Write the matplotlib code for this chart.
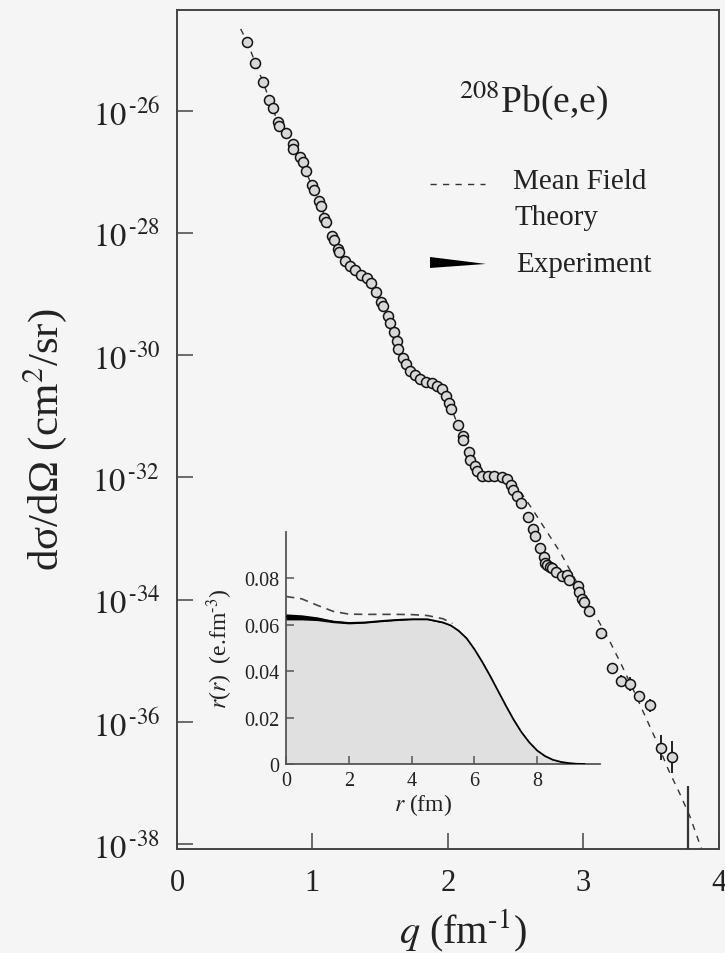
import numpy as np
import matplotlib
matplotlib.use("Agg")
import matplotlib.pyplot as plt
from matplotlib.ticker import FixedLocator, NullLocator, FixedFormatter

plt.rcParams['font.family'] = ['Liberation Serif', 'DejaVu Serif']
plt.rcParams['mathtext.fontset'] = 'stix'

# ---------------- elastic cross section of 208Pb(e,e) ----------------
# measured points: momentum transfer q (fm^-1) and log10 of dsigma/dOmega (cm^2/sr)
q_data = [0.519, 0.578, 0.635, 0.681, 0.708, 0.743, 0.753, 0.807, 0.856, 0.858,
          0.906, 0.928, 0.950, 0.999, 1.011, 1.048, 1.061, 1.087, 1.102, 1.146,
          1.159, 1.188, 1.196, 1.238, 1.277, 1.311, 1.360, 1.400, 1.430, 1.466,
          1.503, 1.522, 1.555, 1.572, 1.604, 1.621, 1.633, 1.670, 1.690, 1.720,
          1.756, 1.793, 1.838, 1.880, 1.921, 1.954, 1.983, 2.007, 2.020, 2.074,
          2.108, 2.113, 2.155, 2.162, 2.199, 2.212, 2.249, 2.297, 2.342, 2.396,
          2.433, 2.463, 2.482, 2.511, 2.541, 2.590, 2.630, 2.642, 2.679, 2.708,
          2.716, 2.733, 2.753, 2.768, 2.799, 2.839, 2.880, 2.893, 2.956, 2.967,
          2.989, 3.004, 3.038, 3.127, 3.208]
log_data = [-24.88, -25.21, -25.53, -25.82, -25.96, -26.18, -26.25, -26.36, -26.55, -26.63,
            -26.76, -26.83, -26.99, -27.22, -27.29, -27.47, -27.56, -27.76, -27.82, -28.05,
            -28.11, -28.26, -28.31, -28.46, -28.54, -28.60, -28.68, -28.73, -28.82, -28.97,
            -29.13, -29.20, -29.36, -29.47, -29.62, -29.76, -29.90, -30.05, -30.14, -30.25,
            -30.33, -30.39, -30.43, -30.45, -30.51, -30.56, -30.67, -30.78, -30.88, -31.14,
            -31.32, -31.38, -31.58, -31.72, -31.82, -31.89, -31.98, -31.98, -31.97, -32.00,
            -32.02, -32.13, -32.21, -32.30, -32.42, -32.64, -32.84, -32.95, -33.16, -33.30,
            -33.40, -33.44, -33.47, -33.48, -33.54, -33.62, -33.59, -33.67, -33.77, -33.88,
            -33.99, -34.04, -34.18, -34.54, -35.12]

# high-q points with visible error bars (error in decades)
q_err = [3.277, 3.345, 3.410, 3.493, 3.570, 3.651]
log_err = [-35.33, -35.38, -35.57, -35.73, -36.42, -36.57]
dlog_err = [0.10, 0.11, 0.08, 0.11, 0.21, 0.26]

# last point: only the upper part of its error bar is inside the frame
q_last = 3.773
log_last_top = -37.05

# mean field theory
q_theory = [0.470, 0.519, 0.635, 0.743, 0.856, 0.950, 1.055, 1.146, 1.196, 1.238,
            1.311, 1.400, 1.466, 1.555, 1.621, 1.670, 1.720, 1.793, 1.880, 1.954,
            2.007, 2.074, 2.155, 2.212, 2.297, 2.396, 2.472, 2.546, 2.620, 2.716,
            2.827, 2.937, 3.109, 3.196, 3.277, 3.365, 3.454, 3.542, 3.624, 3.712,
            3.786, 3.860, 3.904]
log_theory = [-24.66, -24.88, -25.53, -26.18, -26.57, -26.99, -27.52, -28.05, -28.31, -28.46,
              -28.60, -28.73, -28.97, -29.36, -29.76, -30.05, -30.25, -30.39, -30.45, -30.56,
              -30.78, -31.14, -31.58, -31.89, -31.98, -31.98, -32.07, -32.27, -32.51, -32.84,
              -33.22, -33.66, -34.34, -34.69, -35.05, -35.46, -35.90, -36.33, -36.77, -37.18,
              -37.55, -38.01, -38.27]

y_tick_exponents = [-26, -28, -30, -32, -34, -36, -38]
x_ticks = [0, 1, 2, 3, 4]

# ---------------- charge density (inset) ----------------
r_exp = [0.0, 0.5, 1.0, 1.5, 2.0, 2.5, 3.0, 3.5, 4.0, 4.5, 5.0, 5.25, 5.5, 5.75,
         6.0, 6.25, 6.5, 6.75, 7.0, 7.25, 7.5, 7.75, 8.0, 8.25, 8.5, 8.75,
         9.0, 9.25, 9.5]
rho_exp = [0.0634, 0.0632, 0.0626, 0.0614, 0.0608, 0.0610, 0.0616, 0.0621, 0.0624, 0.0624,
           0.0610, 0.0597, 0.0574, 0.0542, 0.0495, 0.0440, 0.0380, 0.0316, 0.0252,
           0.0191, 0.0137, 0.0093, 0.0058, 0.0034, 0.0018, 0.0009, 0.0004, 0.0001, 0.0]
rho_exp_err = [0.0013, 0.0011, 0.0008, 0.0005, 0.0004, 0.0003, 0.0003, 0.0003, 0.0002, 0.0002,
               0.0002, 0.0001, 0.0001, 0.0, 0.0, 0.0, 0.0, 0.0, 0.0, 0.0, 0.0, 0.0, 0.0,
               0.0, 0.0, 0.0, 0.0, 0.0, 0.0]
r_mf = [0.0, 0.5, 1.0, 1.5, 2.0, 2.5, 3.0, 3.5, 4.0, 4.5, 5.0, 5.3]
rho_mf = [0.0722, 0.0712, 0.0684, 0.0658, 0.0646, 0.0645, 0.0645, 0.0645, 0.0644, 0.0640,
          0.0626, 0.0606]
inset_xticks = [0, 2, 4, 6, 8]
inset_yticks = [0, 0.02, 0.04, 0.06, 0.08]
inset_ylabels = ['0', '0.02', '0.04', '0.06', '0.08']

BG = '#f5f5f5'
INK = '#222222'
SPINE = '#444444'

fig = plt.figure(figsize=(7.25, 9.54), dpi=100, facecolor=BG)
ax = fig.add_axes([0.2441, 0.1090, 0.7476, 0.8795], facecolor=BG)

ax.set_yscale('log')
ax.set_xlim(0, 4)
ax.set_ylim(10 ** -38.08, 10 ** -24.35)

ax.plot(q_theory, 10 ** np.array(log_theory), color='#333333', lw=1.0,
        ls=(0, (4.5, 4.5)), zorder=2)

ax.plot(q_data, 10 ** np.array(log_data), 'o', ms=7.2, mfc='#d8d8d8',
        mec='#111111', mew=1.1, zorder=3)

le = np.array(log_err)
de = np.array(dlog_err)
yv = 10 ** le
ax.errorbar(q_err, yv, yerr=[yv - 10 ** (le - de), 10 ** (le + de) - yv],
            fmt='o', ms=7.2, mfc='#d8d8d8', mec='#111111', mew=1.1,
            ecolor='#222222', elinewidth=1.4, capsize=0, zorder=3)
ax.vlines(q_last, 10 ** -39.0, 10 ** log_last_top, color='#333333', lw=1.6, zorder=3)

ax.yaxis.set_major_locator(FixedLocator([10.0 ** e for e in y_tick_exponents]))
ax.yaxis.set_major_formatter(FixedFormatter(
    ['$10^{\\,\\text{-}%d}$' % abs(e) for e in y_tick_exponents]))
ax.yaxis.set_minor_locator(NullLocator())
ax.xaxis.set_major_locator(FixedLocator(x_ticks))
ax.xaxis.set_major_formatter(FixedFormatter([str(t) for t in x_ticks]))

ax.tick_params(axis='both', direction='in', length=11.5, width=1.1, color=SPINE,
               labelsize=22, labelcolor=INK)
ax.tick_params(axis='y', labelsize=23.5, pad=12)
ax.tick_params(axis='x', pad=14)
for s in ax.spines.values():
    s.set_color(SPINE)
    s.set_linewidth(1.4)

# annotation and key
ax.text(0.520, 0.8796, '$^{208}$Pb(e,e)', transform=ax.transAxes, fontsize=27,
        color=INK, ha='left', va='baseline')
ax.plot([0.4668, 0.568], [0.7926, 0.7926], transform=ax.transAxes, color='#333333',
        lw=1.0, ls=(0, (4.5, 4.5)))
ax.text(0.620, 0.796, 'Mean Field', transform=ax.transAxes, fontsize=21, color=INK,
        ha='left', va='center')
ax.text(0.623, 0.753, 'Theory', transform=ax.transAxes, fontsize=21, color=INK,
        ha='left', va='center')
ax.fill([0.4668, 0.4668, 0.570], [0.7056, 0.6925, 0.6973], transform=ax.transAxes,
        color='black', lw=0)
ax.text(0.6255, 0.697, 'Experiment', transform=ax.transAxes, fontsize=21, color=INK,
        ha='left', va='center')

fig.text(0.062, 0.539, 'd\u03c3/d\u03a9 (cm$^{2}$/sr)', rotation=90, fontsize=31,
         color=INK, ha='center', va='center')
fig.text(0.639, 0.024, '$\\mathit{q}$ (fm$^{\\text{-}1}$)', fontsize=29, color=INK,
         ha='center', va='center')

# ---------------- inset ----------------
ax2 = fig.add_axes([0.3945, 0.1981, 0.4331, 0.2432], facecolor='none')
ax2.set_xlim(0, 10)
ax2.set_ylim(0, 0.1)
re = np.array(r_exp)
rh = np.array(rho_exp)
rr = np.array(rho_exp_err)
ax2.fill_between(re, 0, rh - rr, color='#e0e0e0', lw=0, zorder=1)
ax2.fill_between(re, rh - rr, rh + rr, color='black', lw=0, zorder=3)
ax2.plot(re, rh, color='black', lw=1.3, zorder=3)
ax2.plot(r_mf, rho_mf, color='#444444', lw=1.2, ls=(0, (5, 3.5)), zorder=2)

for side in ('top', 'right'):
    ax2.spines[side].set_visible(False)
for side in ('left', 'bottom'):
    ax2.spines[side].set_color('#555555')
    ax2.spines[side].set_linewidth(1.3)
ax2.xaxis.set_major_locator(FixedLocator(inset_xticks))
ax2.xaxis.set_major_formatter(FixedFormatter([str(t) for t in inset_xticks]))
ax2.yaxis.set_major_locator(FixedLocator(inset_yticks))
ax2.yaxis.set_major_formatter(FixedFormatter(inset_ylabels))
ax2.tick_params(axis='both', direction='in', length=5.5, width=1.1, color='#555555',
                labelsize=14.5, labelcolor=INK, pad=5)
ax2.text(0.436, -0.172, '$\\mathit{r}$ (fm)', transform=ax2.transAxes, fontsize=17,
         color=INK, ha='center', va='center')
ax2.text(-0.21, 0.5, '$\\mathit{r}$($\\mathit{r}$)  (e.fm$^{\\text{-}3}$)',
         transform=ax2.transAxes, fontsize=17, color=INK, ha='center', va='center',
         rotation=90)

fig.savefig('out.png', dpi=100, facecolor=BG)
